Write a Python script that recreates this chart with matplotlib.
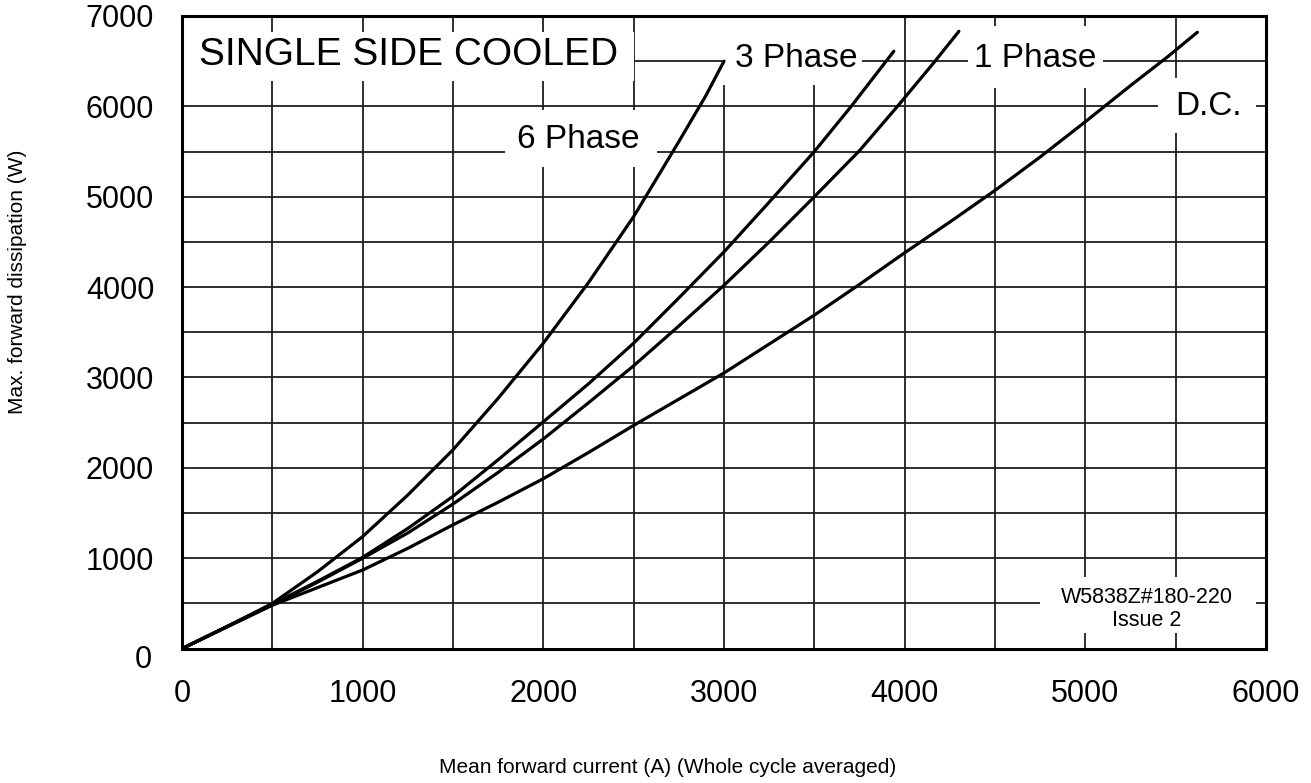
import matplotlib
matplotlib.use('Agg')
import matplotlib.pyplot as plt
from matplotlib.patches import Rectangle
from matplotlib.ticker import MultipleLocator

plt.rcParams['font.family'] = ['Liberation Sans', 'DejaVu Sans']

# Mean forward current (A) vs max. forward dissipation (W)
six_phase_a = [0, 250, 500, 750, 1000, 1250, 1500, 1750, 2000, 2250, 2500, 2750, 2900, 3000]
six_phase_w = [0, 245, 500, 850, 1240, 1700, 2200, 2770, 3380, 4050, 4780, 5610, 6120, 6500]

three_phase_a = [0, 250, 500, 750, 1000, 1250, 1500, 1750, 2000, 2250, 2500, 2750, 3000,
                 3250, 3500, 3700, 3940]
three_phase_w = [0, 245, 490, 745, 1010, 1330, 1685, 2090, 2510, 2930, 3380, 3880, 4390,
                 4940, 5500, 5990, 6610]

one_phase_a = [0, 250, 500, 750, 1000, 1250, 1500, 1750, 2000, 2250, 2500, 2750, 3000,
               3250, 3500, 3750, 3960, 4160, 4300]
one_phase_w = [0, 245, 485, 735, 1000, 1280, 1600, 1950, 2320, 2720, 3130, 3570, 4020,
               4500, 5000, 5510, 6000, 6480, 6830]

dc_a = [0, 250, 500, 750, 1000, 1250, 1500, 1750, 2000, 2250, 2500, 2750, 3000, 3250,
        3500, 3750, 4000, 4250, 4500, 4750, 5000, 5250, 5450, 5620]
dc_w = [0, 240, 480, 675, 870, 1110, 1370, 1620, 1880, 2170, 2470, 2760, 3050, 3370,
        3690, 4030, 4380, 4720, 5070, 5440, 5830, 6230, 6540, 6820]

x_ticks = [0, 1000, 2000, 3000, 4000, 5000, 6000]
y_ticks = [0, 1000, 2000, 3000, 4000, 5000, 6000, 7000]

fig = plt.figure(figsize=(13.11, 7.83), dpi=100)
ax = fig.add_axes([0.1388, 0.1716, 0.8269, 0.808])

ax.set_xlim(0, 6000)
ax.set_ylim(0, 7000)
ax.set_xticks(x_ticks, [str(v) for v in x_ticks])
ax.set_yticks(y_ticks, [''] + [str(v) for v in y_ticks[1:]])
ax.xaxis.set_minor_locator(MultipleLocator(500))
ax.yaxis.set_minor_locator(MultipleLocator(500))
ax.tick_params(which='both', length=0, labelsize=22)
ax.tick_params(axis='x', pad=22)
ax.tick_params(axis='y', pad=20)
ax.set_axisbelow(True)
ax.grid(which='both', color='#1e1e1e', linewidth=1.3)
for s in ax.spines.values():
    s.set_linewidth(2.2)
    s.set_zorder(5)

# the "0" on the y axis sits a bit lower on the original
ax.annotate('0', xy=(0, 0), xytext=(-21.5, -8), textcoords='offset points',
            ha='right', va='center', fontsize=22, annotation_clip=False)

for xs, ys in [(six_phase_a, six_phase_w), (three_phase_a, three_phase_w),
               (one_phase_a, one_phase_w), (dc_a, dc_w)]:
    ax.plot(xs, ys, color='black', linewidth=2.3, zorder=3,
            solid_capstyle='round', solid_joinstyle='round')

# white label boxes hiding the grid behind the text
boxes = [(0, 6275, 2500, 545), (1788, 5333, 841, 632), (2994, 6241, 769, 759),
         (4350, 6208, 747, 676), (5401, 5709, 543, 609), (4748, 173, 1196, 620)]
for bx, by, bw, bh in boxes:
    ax.add_patch(Rectangle((bx, by), bw, bh, facecolor='white', edgecolor='none', zorder=1))

ax.text(94, 6463, 'SINGLE SIDE COOLED', fontsize=28, va='baseline', zorder=4)
ax.text(1854, 5544, '6 Phase', fontsize=24, va='baseline', zorder=4)
ax.text(3060, 6430, '3 Phase', fontsize=24, va='baseline', zorder=4)
ax.text(4383, 6430, '1 Phase', fontsize=24, va='baseline', zorder=4)
ax.text(5499, 5908, 'D.C.', fontsize=24, va='baseline', zorder=4)
ax.text(5340, 505, 'W5838Z#180-220', fontsize=15.5, ha='center', va='baseline', zorder=4)
ax.text(5340, 250, 'Issue 2', fontsize=15.5, ha='center', va='baseline', zorder=4)

fig.text(0.013, 0.64, 'Max. forward dissipation (W)', rotation=90, fontsize=15,
         ha='center', va='center')
fig.text(0.5095, 0.02, 'Mean forward current (A) (Whole cycle averaged)', fontsize=15,
         ha='center', va='center')

fig.savefig('out.png', dpi=100)
